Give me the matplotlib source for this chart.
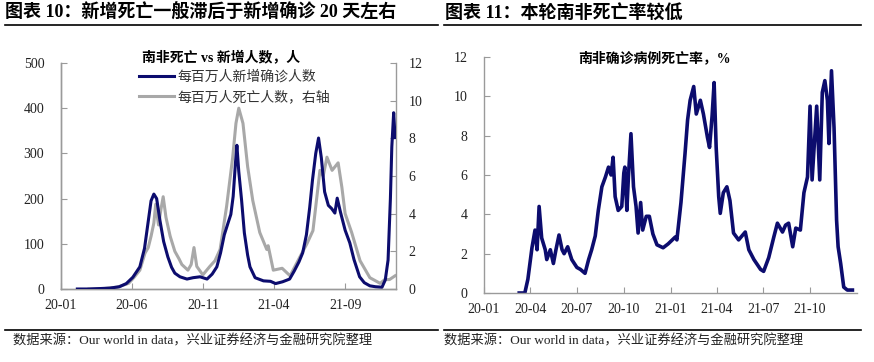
import pandas as pd
import matplotlib.pyplot as plt
import matplotlib.dates as mdates
from matplotlib.lines import Line2D

# 南非 每百万人新增确诊（左轴）
case_dates = ['2020-02-05', '2020-03-01', '2020-03-25', '2020-04-15', '2020-05-05', '2020-05-20',
              '2020-06-03', '2020-06-18', '2020-06-28', '2020-07-06', '2020-07-12', '2020-07-18',
              '2020-07-24', '2020-07-31', '2020-08-08', '2020-08-17', '2020-08-25', '2020-09-01',
              '2020-09-12', '2020-09-27', '2020-10-10', '2020-10-25', '2020-11-09', '2020-11-20',
              '2020-11-30', '2020-12-08', '2020-12-16', '2020-12-24', '2020-12-30', '2021-01-04',
              '2021-01-09', '2021-01-12', '2021-01-16', '2021-01-22', '2021-01-28', '2021-02-04',
              '2021-02-09', '2021-02-20', '2021-03-10', '2021-03-25', '2021-04-05', '2021-04-20',
              '2021-05-05', '2021-05-15', '2021-05-25', '2021-06-02', '2021-06-10', '2021-06-17',
              '2021-06-23', '2021-06-30', '2021-07-06', '2021-07-12', '2021-07-19', '2021-07-27',
              '2021-08-03', '2021-08-10', '2021-08-15', '2021-08-22', '2021-09-01', '2021-09-11',
              '2021-09-20', '2021-10-02', '2021-10-12', '2021-10-24', '2021-11-05', '2021-11-19',
              '2021-11-26', '2021-12-02', '2021-12-07', '2021-12-10', '2021-12-14', '2021-12-17']
case_vals = [0, 0, 1, 2, 5, 12,
             26, 49, 90, 150, 195, 210,
             200, 152, 105, 71, 48, 35,
             27, 22, 25, 27, 22, 33,
             49, 80, 120, 146, 165, 205,
             280, 318, 260, 197, 124, 75,
             49, 25, 18, 17, 12, 16,
             22, 40, 60, 80, 120, 180,
             241, 300, 334, 290, 215, 185,
             178, 168, 201, 170, 130, 102,
             65, 27, 14, 7, 5, 4,
             20, 64, 200, 314, 390, 335]

# 每百万人死亡（右轴）
death_dates = ['2020-03-01', '2020-04-01', '2020-05-01', '2020-05-25', '2020-06-05', '2020-06-18',
               '2020-06-29', '2020-07-06', '2020-07-12', '2020-07-18', '2020-07-22', '2020-07-28',
               '2020-08-02', '2020-08-07', '2020-08-13', '2020-08-22', '2020-09-01', '2020-09-10',
               '2020-09-16', '2020-09-29', '2020-10-06', '2020-10-12', '2020-10-18', '2020-10-31',
               '2020-11-15', '2020-11-26', '2020-12-07', '2020-12-21', '2021-01-03', '2021-01-10',
               '2021-01-16', '2021-01-25', '2021-02-04', '2021-02-15', '2021-03-02', '2021-03-17',
               '2021-03-20', '2021-03-31', '2021-04-19', '2021-05-06', '2021-05-27', '2021-06-11',
               '2021-06-24', '2021-07-09', '2021-07-16', '2021-07-24', '2021-08-04', '2021-08-17',
               '2021-08-25', '2021-09-01', '2021-09-15', '2021-10-03', '2021-10-24', '2021-11-15',
               '2021-11-25', '2021-12-05', '2021-12-17']
death_vals = [0, 0.02, 0.1, 0.3, 0.6, 1.0,
              1.9, 2.2, 2.8, 3.5, 4.5, 3.4,
              4.2, 4.9, 3.8, 2.8, 2.0, 1.6,
              1.3, 1.0, 1.3, 2.2, 1.2, 0.75,
              1.2, 1.5, 2.1, 4.4, 7.0, 8.8,
              9.6, 8.8, 6.5, 4.7, 3.0, 2.1,
              2.3, 1.0, 1.1, 0.7, 1.7, 2.4,
              3.1, 6.3, 6.0, 7.0, 6.3, 6.7,
              5.4, 4.0, 3.0, 1.5, 0.6, 0.3,
              0.5, 0.5, 0.7]

# 南非确诊病例死亡率，%
cfr_dates = ['2020-03-10', '2020-03-21', '2020-03-27', '2020-04-04', '2020-04-10', '2020-04-14',
             '2020-04-18', '2020-04-23', '2020-04-30', '2020-05-03', '2020-05-10', '2020-05-16',
             '2020-05-21', '2020-05-27', '2020-06-02', '2020-06-06', '2020-06-13', '2020-06-21',
             '2020-07-01', '2020-07-08', '2020-07-17', '2020-07-24', '2020-07-30', '2020-08-06',
             '2020-08-12', '2020-08-19', '2020-08-26', '2020-09-01', '2020-09-06', '2020-09-10',
             '2020-09-14', '2020-09-20', '2020-09-27', '2020-10-01', '2020-10-03', '2020-10-07',
             '2020-10-10', '2020-10-15', '2020-10-20', '2020-10-25', '2020-10-29', '2020-11-03',
             '2020-11-07', '2020-11-14', '2020-11-20', '2020-11-27', '2020-12-05', '2020-12-17',
             '2020-12-27', '2021-01-10', '2021-01-13', '2021-01-21', '2021-01-29', '2021-02-03',
             '2021-02-08', '2021-02-15', '2021-02-20', '2021-02-28', '2021-03-06', '2021-03-14',
             '2021-03-18', '2021-03-23', '2021-03-27', '2021-03-31', '2021-04-05', '2021-04-08',
             '2021-04-14', '2021-04-21', '2021-04-27', '2021-05-04', '2021-05-14', '2021-05-27',
             '2021-06-03', '2021-06-13', '2021-06-26', '2021-07-02', '2021-07-12', '2021-07-22',
             '2021-07-29', '2021-08-08', '2021-08-14', '2021-08-20', '2021-08-28', '2021-09-03',
             '2021-09-12', '2021-09-19', '2021-09-26', '2021-10-01', '2021-10-05', '2021-10-14',
             '2021-10-20', '2021-10-25', '2021-10-30', '2021-11-04', '2021-11-07', '2021-11-12',
             '2021-11-17', '2021-11-22', '2021-11-25', '2021-11-30', '2021-12-06', '2021-12-13',
             '2021-12-23']
cfr_vals = [0, 0, 0.7, 2.3, 3.2, 2.2,
            4.4, 2.8, 2.2, 1.7, 2.2, 1.5,
            2.2, 2.95, 2.2, 2.0, 2.35, 1.7,
            1.3, 1.2, 1.0, 1.7, 2.2, 2.9,
            4.2, 5.4, 5.9, 6.4, 6.0, 6.9,
            4.9, 4.2, 4.4, 6.1, 6.4, 4.2,
            5.9, 8.1, 5.4, 4.4, 3.05, 4.6,
            3.2, 3.9, 3.9, 3.0, 2.45, 2.3,
            2.5, 2.85, 2.7, 4.6, 7.1, 8.8,
            9.8, 10.5, 9.1, 9.8, 9.1, 7.9,
            7.4, 9.0, 10.7, 7.4, 4.9, 4.05,
            5.1, 5.4, 4.7, 3.05, 2.7, 3.1,
            2.2, 1.7, 1.2, 1.1, 1.8, 2.85,
            3.55, 3.1, 3.45, 3.55, 2.35, 3.3,
            3.2, 5.1, 5.9, 9.5, 5.75, 9.5,
            5.75, 10.2, 10.8, 9.8, 7.6, 11.3,
            8.4, 3.7, 2.35, 1.5, 0.3, 0.15,
            0.15]

left_ticks = ['2020-01-01', '2020-06-01', '2020-11-01', '2021-04-01', '2021-09-01']
right_ticks = ['2020-01-01', '2020-04-01', '2020-07-01', '2020-10-01',
               '2021-01-01', '2021-04-01', '2021-07-01', '2021-10-01']

NAVY = '#0c0c6e'
GREY = '#a8a8a8'
SPINE = '#9a9a9a'
MIX = ['Liberation Serif', 'Noto Sans CJK SC']
CJK = ['Noto Sans CJK SC', 'DejaVu Sans']

fig = plt.figure(figsize=(8.74, 3.62), dpi=100)


def style_axis(ax, ypad):
    for s in ['left', 'right', 'bottom', 'top']:
        ax.spines[s].set_color(SPINE)
        ax.spines[s].set_linewidth(1.0)
    ax.spines['top'].set_visible(False)
    ax.tick_params(axis='both', direction='in', length=4, color=SPINE,
                   labelsize=10, labelcolor='#222222')
    ax.tick_params(axis='y', pad=ypad)
    ax.tick_params(axis='x', pad=7)
    for lab in ax.get_xticklabels() + ax.get_yticklabels():
        lab.set_fontfamily('Liberation Serif')
    ax.xaxis.set_major_formatter(mdates.DateFormatter('%y-%m'))


# ---- 左图 ----
ax1 = fig.add_axes([61 / 874, 1 - 289 / 362, (396 - 61) / 874, (289 - 63) / 362])
l1, = ax1.plot(pd.to_datetime(case_dates), case_vals, color=NAVY, lw=2.2, zorder=3)
ax1b = ax1.twinx()
l2, = ax1b.plot(pd.to_datetime(death_dates), death_vals, color=GREY, lw=2.2, zorder=2)
ax1.set_zorder(ax1b.get_zorder() + 1)
ax1.patch.set_visible(False)
ax1.set_xlim(pd.Timestamp('2020-01-01'), pd.Timestamp('2021-12-19'))
ax1.set_ylim(0, 500)
ax1b.set_ylim(0, 12)
ax1.set_yticks(range(0, 501, 100))
ax1b.set_yticks(range(0, 13, 2))
ax1.set_xticks(pd.to_datetime(left_ticks))
style_axis(ax1, 12)
style_axis(ax1b, 9)
ax1b.spines['right'].set_visible(True)
ax1.spines['right'].set_visible(False)
for lab in ax1b.get_yticklabels():
    lab.set_fontfamily('Liberation Serif')

fig.text(142 / 874, 1 - 58 / 362, '南非死亡 vs 新增人数，人', family=MIX, weight='bold',
         fontsize=10, va='center', ha='left')
fig.legend([l1, l2], ['每百万人新增确诊人数', '每百万人死亡人数，右轴'],
           loc='upper left', bbox_to_anchor=(139 / 874, 1 - 70 / 362),
           frameon=False, prop={'family': CJK, 'size': 10}, handlelength=2.5,
           handletextpad=0.25, labelspacing=0.45, borderpad=0, borderaxespad=0,
           labelcolor='#333333')

# ---- 右图 ----
ax2 = fig.add_axes([484 / 874, 1 - 293 / 362, (857 - 484) / 874, (293 - 57) / 362])
ax2.plot(pd.to_datetime(cfr_dates), cfr_vals, color=NAVY, lw=2.6)
ax2.set_xlim(pd.Timestamp('2020-01-01'), pd.Timestamp('2022-01-01'))
ax2.set_ylim(0, 12)
ax2.set_yticks(range(0, 13, 2))
ax2.set_xticks(pd.to_datetime(right_ticks))
style_axis(ax2, 12)
ax2.spines['right'].set_visible(False)
fig.text(654 / 874, 1 - 58 / 362, '南非确诊病例死亡率，%', family=MIX, weight='bold',
         fontsize=10, va='center', ha='center')

# ---- 标题、分隔线、来源 ----
fig.text(5 / 874, 1 - 13 / 362, '图表 10：新增死亡一般滞后于新增确诊 20 天左右', family=MIX,
         weight='bold', fontsize=13, va='center', ha='left')
fig.text(445 / 874, 1 - 13 / 362, '图表 11：本轮南非死亡率较低', family=MIX,
         weight='bold', fontsize=13, va='center', ha='left')
for x0, x1 in [(5, 438), (444, 861)]:
    fig.add_artist(Line2D([x0 / 874, x1 / 874], [1 - 25 / 362] * 2, color='black', lw=1.2))
    fig.add_artist(Line2D([x0 / 874, x1 / 874], [1 - 330 / 362] * 2, color='black', lw=1.2))
src = '数据来源：Our world in data，兴业证券经济与金融研究院整理'
fig.text(13 / 874, 1 - 341 / 362, src, family=MIX, fontsize=9.5, va='center', ha='left',
         color='#222222')
fig.text(444 / 874, 1 - 341 / 362, src, family=MIX, fontsize=9.5, va='center', ha='left',
         color='#222222')

fig.savefig('out.png', dpi=100)
